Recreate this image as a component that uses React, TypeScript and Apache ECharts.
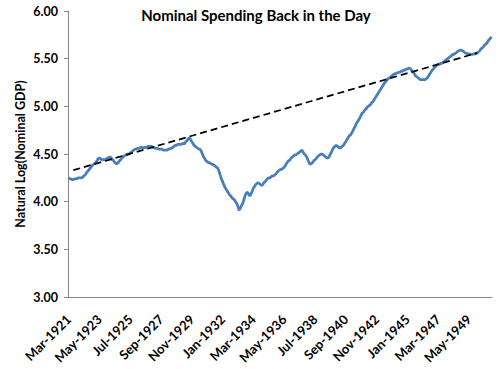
import React, { useEffect, useRef } from "react";
import * as echarts from "echarts";

// Monthly series, first value = Mar-1921
const monthNames = ["Jan", "Feb", "Mar", "Apr", "May", "Jun", "Jul", "Aug", "Sep", "Oct", "Nov", "Dec"];
const startYear = 1921;
const startMonthIndex = 2; // Mar

const y1921 = [4.25, 4.24, 4.24, 4.23, 4.23, 4.24, 4.24, 4.24, 4.25, 4.25];
const y1922 = [4.25, 4.25, 4.26, 4.27, 4.28, 4.30, 4.32, 4.33, 4.35, 4.36, 4.38, 4.39];
const y1923 = [4.40, 4.41, 4.43, 4.45, 4.46, 4.45, 4.44, 4.44, 4.44, 4.44, 4.45, 4.46];
const y1924 = [4.46, 4.47, 4.46, 4.44, 4.43, 4.41, 4.40, 4.40, 4.41, 4.43, 4.44, 4.46];
const y1925 = [4.47, 4.48, 4.49, 4.49, 4.50, 4.50, 4.51, 4.52, 4.53, 4.54, 4.55, 4.55];
const y1926 = [4.56, 4.56, 4.56, 4.57, 4.57, 4.56, 4.57, 4.57, 4.57, 4.58, 4.58, 4.58];
const y1927 = [4.58, 4.57, 4.57, 4.56, 4.56, 4.56, 4.55, 4.55, 4.55, 4.55, 4.54, 4.54];
const y1928 = [4.54, 4.54, 4.55, 4.55, 4.56, 4.56, 4.57, 4.58, 4.59, 4.59, 4.60, 4.60];
const y1929 = [4.60, 4.60, 4.61, 4.61, 4.61, 4.63, 4.64, 4.66, 4.67, 4.65, 4.63, 4.61];
const y1930 = [4.59, 4.58, 4.57, 4.56, 4.55, 4.55, 4.53, 4.50, 4.47, 4.45, 4.43, 4.42];
const y1931 = [4.41, 4.41, 4.40, 4.39, 4.39, 4.38, 4.37, 4.36, 4.35, 4.32, 4.28, 4.24];
const y1932 = [4.21, 4.18, 4.15, 4.13, 4.11, 4.09, 4.07, 4.06, 4.04, 4.03, 4.02, 4.00];
const y1933 = [3.98, 3.95, 3.91, 3.93, 3.96, 3.98, 4.02, 4.06, 4.09, 4.10, 4.08, 4.06];
const y1934 = [4.08, 4.11, 4.14, 4.16, 4.18, 4.19, 4.20, 4.19, 4.18, 4.17, 4.18, 4.20];
const y1935 = [4.21, 4.23, 4.24, 4.25, 4.25, 4.26, 4.27, 4.27, 4.28, 4.29, 4.31, 4.32];
const y1936 = [4.33, 4.34, 4.34, 4.35, 4.36, 4.38, 4.40, 4.42, 4.43, 4.44, 4.46, 4.47];
const y1937 = [4.48, 4.49, 4.49, 4.50, 4.51, 4.52, 4.53, 4.54, 4.52, 4.50, 4.49, 4.47];
const y1938 = [4.44, 4.41, 4.39, 4.40, 4.41, 4.43, 4.44, 4.45, 4.47, 4.48, 4.49, 4.50];
const y1939 = [4.50, 4.49, 4.48, 4.47, 4.46, 4.46, 4.47, 4.50, 4.52, 4.55, 4.57, 4.58];
const y1940 = [4.59, 4.58, 4.57, 4.56, 4.57, 4.58, 4.59, 4.61, 4.63, 4.65, 4.67, 4.69];
const y1941 = [4.70, 4.72, 4.74, 4.77, 4.79, 4.82, 4.84, 4.86, 4.88, 4.91, 4.93, 4.94];
const y1942 = [4.96, 4.97, 4.99, 5.00, 5.01, 5.02, 5.04, 5.05, 5.07, 5.09, 5.11, 5.13];
const y1943 = [5.15, 5.17, 5.19, 5.21, 5.23, 5.25, 5.26, 5.28, 5.29, 5.30, 5.31, 5.32];
const y1944 = [5.33, 5.34, 5.34, 5.35, 5.35, 5.36, 5.36, 5.37, 5.37, 5.38, 5.38, 5.39];
const y1945 = [5.39, 5.40, 5.40, 5.39, 5.37, 5.36, 5.34, 5.32, 5.31, 5.30, 5.29, 5.28];
const y1946 = [5.28, 5.28, 5.28, 5.28, 5.29, 5.30, 5.32, 5.34, 5.36, 5.38, 5.39, 5.41];
const y1947 = [5.42, 5.43, 5.44, 5.44, 5.45, 5.45, 5.46, 5.47, 5.48, 5.49, 5.50, 5.51];
const y1948 = [5.52, 5.53, 5.54, 5.545, 5.55, 5.56, 5.57, 5.58, 5.585, 5.59, 5.585, 5.58];
const y1949 = [5.57, 5.56, 5.555, 5.55, 5.55, 5.545, 5.545, 5.545, 5.55, 5.55, 5.55, 5.56];
const y1950 = [5.57, 5.58, 5.60, 5.61, 5.62, 5.64, 5.65, 5.66, 5.68, 5.70, 5.71, 5.73];

const logNominalGDP = [
  ...y1921, ...y1922, ...y1923, ...y1924, ...y1925, ...y1926, ...y1927, ...y1928,
  ...y1929, ...y1930, ...y1931, ...y1932, ...y1933, ...y1934, ...y1935, ...y1936,
  ...y1937, ...y1938, ...y1939, ...y1940, ...y1941, ...y1942, ...y1943, ...y1944,
  ...y1945, ...y1946, ...y1947, ...y1948, ...y1949, ...y1950,
];

// Trend line end points (category, value)
const trendCategories = ["Jul-1921", "Dec-1949"];
const trendValues = [4.33, 5.56];

const yTicks = { min: 3, max: 6, interval: 0.5 };

const categories = logNominalGDP.map((_, i) => {
  const m = startMonthIndex + i;
  return `${monthNames[m % 12]}-${startYear + Math.floor(m / 12)}`;
});

const FONT = "Lato";

export default function App() {
  const ref = useRef<HTMLDivElement>(null);
  useEffect(() => {
    if (!ref.current) return;
    const chart = echarts.init(ref.current, undefined, { renderer: "svg" });
    chart.setOption({
      animation: false,
      backgroundColor: "#ffffff",
      title: {
        text: "Nominal Spending Back in the Day",
        left: 256,
        textAlign: "center",
        top: 7,
        padding: 0,
        textStyle: { fontFamily: FONT, fontSize: 15, fontWeight: "bold", color: "#000" },
      },
      grid: { left: 68, right: 8, top: 11, bottom: 72, containLabel: false },
      xAxis: {
        type: "category",
        data: categories,
        boundaryGap: true,
        axisLine: { show: true, lineStyle: { color: "#868686", width: 1 } },
        axisTick: { show: false },
        splitLine: { show: false },
        axisLabel: {
          interval: 25,
          rotate: 45,
          margin: 20,
          fontFamily: FONT,
          fontSize: 13,
          fontWeight: "bold",
          color: "#000",
        },
      },
      yAxis: {
        type: "value",
        min: yTicks.min,
        max: yTicks.max,
        interval: yTicks.interval,
        name: "Natural Log(Nominal GDP)",
        nameLocation: "middle",
        nameGap: 41,
        nameMoveOverlap: false,
        nameTextStyle: { fontFamily: FONT, fontSize: 12.5, fontWeight: "bold", color: "#000" },
        axisLine: { show: true, lineStyle: { color: "#868686", width: 1 } },
        axisTick: { show: true, inside: false, length: 4, lineStyle: { color: "#868686" } },
        splitLine: { show: false },
        axisLabel: {
          margin: 10,
          fontFamily: FONT,
          fontSize: 12.5,
          fontWeight: "bold",
          color: "#000",
          formatter: (v: number) => v.toFixed(2),
        },
      },
      series: [
        {
          type: "line",
          data: logNominalGDP,
          showSymbol: false,
          symbol: "none",
          lineStyle: { color: "#4A7EBB", width: 2.75 },
          z: 2,
        },
        {
          type: "line",
          data: trendCategories.map((c, i) => [c, trendValues[i]]),
          showSymbol: false,
          symbol: "none",
          lineStyle: { color: "#000", width: 1.75, type: [7, 4] },
          z: 3,
        },
      ],
    });
    return () => chart.dispose();
  }, []);
  return (
    <div
      ref={ref}
      style={{ position: "fixed", left: 0, top: 0, width: 500, height: 369 }}
    />
  );
}
